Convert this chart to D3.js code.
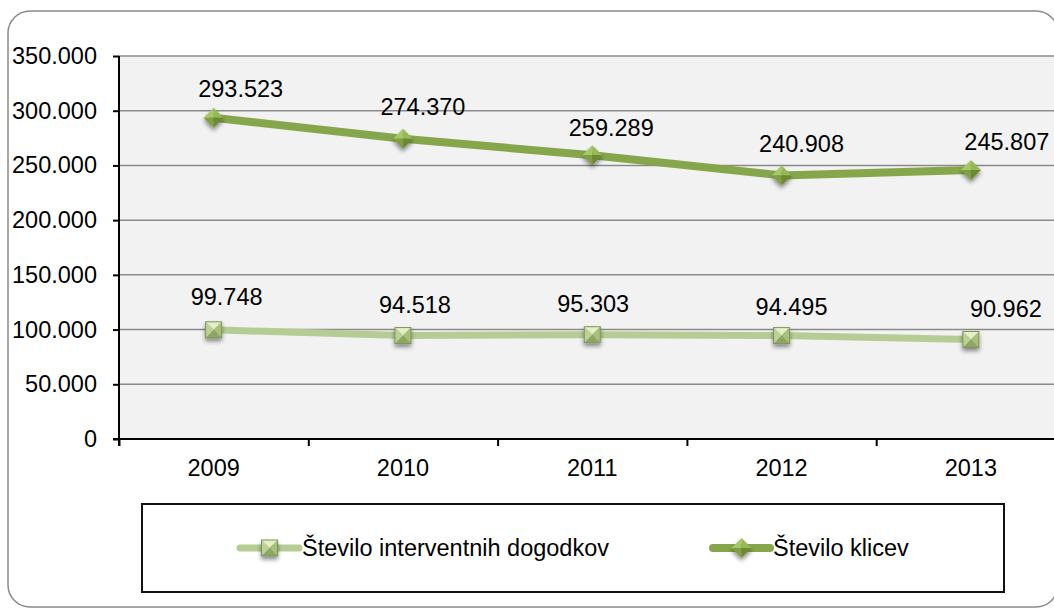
<!DOCTYPE html>
<html>
<head>
<meta charset="utf-8">
<script src="https://cdn.jsdelivr.net/npm/d3@7"></script>
<style>
  html, body { margin: 0; padding: 0; background: #fff; overflow: hidden; }
  text { font-family: "Liberation Sans", Arial, sans-serif; fill: #000; }
</style>
</head>
<body>
<svg id="chart" width="1054" height="610"></svg>
<script>
const years = ["2009", "2010", "2011", "2012", "2013"];
const klici = [293523, 274370, 259289, 240908, 245807];
const dogodki = [99748, 94518, 95303, 94495, 90962];
const yTicks = [0, 50000, 100000, 150000, 200000, 250000, 300000, 350000];
const seriesNames = ["Število interventnih dogodkov", "Število klicev"];

// label nudges (as placed in the original)
const klicLabelDx = [27, 20, 19, 20, 36];
const klicLabelDy = [-21, -24, -19, -23, -20];
const dogLabelDx = [13, 12, 1, 10, 35];
const dogLabelDy = [-25, -23, -23, -21, -22];

const svg = d3.select("#chart");
const fs = 23.5;
const plot = { left: 119, top: 56, bottom: 439, right: 1065.5 };

const sl = d3.formatLocale({ decimal: ",", thousands: ".", grouping: [3], currency: ["", " €"] });
const fmt = sl.format(",");

const defs = svg.append("defs");
const f = defs.append("filter").attr("id", "shadow")
    .attr("x", "-50%").attr("y", "-50%").attr("width", "200%").attr("height", "200%");
f.append("feDropShadow").attr("dx", 0).attr("dy", 3).attr("stdDeviation", 2)
    .attr("flood-color", "#000").attr("flood-opacity", 0.45);

// outer frame
svg.append("rect")
    .attr("x", 8).attr("y", 11).attr("width", 1050).attr("height", 596)
    .attr("rx", 22).attr("fill", "#fff").attr("stroke", "#8a8a8a").attr("stroke-width", 1.5);

const x = d3.scaleBand().domain(years).range([plot.left, plot.right]).paddingInner(0).paddingOuter(0);
const xc = d => x(d) + x.bandwidth() / 2;
const y = d3.scaleLinear().domain([0, 350000]).range([plot.bottom, plot.top]);

svg.append("rect")
    .attr("x", plot.left).attr("y", plot.top)
    .attr("width", plot.right - plot.left).attr("height", plot.bottom - plot.top)
    .attr("fill", "#f2f2f2");

svg.append("g").selectAll("line")
    .data(yTicks.filter(v => v > 0))
    .enter().append("line")
    .attr("x1", plot.left).attr("x2", plot.right)
    .attr("y1", d => y(d)).attr("y2", d => y(d))
    .attr("stroke", "#8a8a8a").attr("stroke-width", 1.5);

// y axis
const yAxis = svg.append("g")
    .attr("transform", "translate(" + plot.left + ",0)")
    .call(d3.axisLeft(y).tickValues(yTicks).tickSize(6).tickPadding(16).tickFormat(d => d === 0 ? "0" : fmt(d)));
yAxis.select(".domain").remove();
yAxis.selectAll("line").attr("stroke", "#000").attr("stroke-width", 2);
yAxis.selectAll("text").style("font-size", fs + "px").attr("fill", "#000");
svg.append("line")
    .attr("x1", plot.left).attr("x2", plot.left)
    .attr("y1", plot.top).attr("y2", plot.bottom + 7)
    .attr("stroke", "#000").attr("stroke-width", 2);

// x axis
const xAxis = svg.append("g")
    .attr("transform", "translate(0," + plot.bottom + ")")
    .call(d3.axisBottom(x).tickSize(0).tickPadding(20));
xAxis.select(".domain").remove();
xAxis.selectAll("text").style("font-size", fs + "px").attr("fill", "#000");

const xEdges = d3.scaleLinear().domain([0, years.length]).range([plot.left, plot.right]);
const xTickAxis = svg.append("g")
    .attr("transform", "translate(0," + plot.bottom + ")")
    .call(d3.axisBottom(xEdges).ticks(years.length).tickSize(7).tickFormat(""));
xTickAxis.select(".domain").remove();
xTickAxis.selectAll("line").attr("stroke", "#000").attr("stroke-width", 2);
svg.append("line")
    .attr("x1", plot.left - 6).attr("x2", plot.right)
    .attr("y1", plot.bottom).attr("y2", plot.bottom)
    .attr("stroke", "#000").attr("stroke-width", 2);

// markers
function diamond(g, cx, cy, r) {
  const facets = [
    { p: [[cx, cy - r], [cx - r, cy], [cx, cy]], c: "#a6c866" },
    { p: [[cx, cy - r], [cx + r, cy], [cx, cy]], c: "#96b955" },
    { p: [[cx - r, cy], [cx, cy + r], [cx, cy]], c: "#7f9f42" },
    { p: [[cx + r, cy], [cx, cy + r], [cx, cy]], c: "#6c8a33" }
  ];
  const m = g.append("g").attr("filter", "url(#shadow)");
  facets.forEach(ft => m.append("path").attr("d", "M" + ft.p.join("L") + "Z").attr("fill", ft.c));
}
function square(g, cx, cy, r) {
  const a = [cx - r, cy - r], b = [cx + r, cy - r], c = [cx + r, cy + r], d = [cx - r, cy + r], o = [cx, cy];
  const facets = [
    { p: [a, b, o], c: "#e4efc6" },
    { p: [b, c, o], c: "#a8c07a" },
    { p: [c, d, o], c: "#8ea564" },
    { p: [d, a, o], c: "#bcd193" }
  ];
  const m = g.append("g").attr("filter", "url(#shadow)");
  facets.forEach(ft => m.append("path").attr("d", "M" + ft.p.join("L") + "Z").attr("fill", ft.c));
  m.append("rect").attr("x", cx - r).attr("y", cy - r).attr("width", 2 * r).attr("height", 2 * r)
      .attr("fill", "none").attr("stroke", "#7d9558").attr("stroke-width", 1);
}

const line = d3.line().x((d, i) => xc(years[i])).y(d => y(d));

const series = [
  { values: dogodki, color: "#b5cd95", width: 7, marker: square, size: 8, dx: dogLabelDx, dy: dogLabelDy },
  { values: klici, color: "#86a64b", width: 8, marker: diamond, size: 10, dx: klicLabelDx, dy: klicLabelDy }
];

series.forEach(s => {
  const g = svg.append("g");
  g.append("path").datum(s.values)
      .attr("d", line).attr("fill", "none")
      .attr("stroke", s.color).attr("stroke-width", s.width)
      .attr("stroke-linejoin", "round").attr("stroke-linecap", "round");
  s.values.forEach((v, i) => s.marker(g, xc(years[i]), y(v), s.size));
  g.selectAll("text.lbl").data(s.values).enter().append("text")
      .attr("class", "lbl")
      .attr("x", (d, i) => xc(years[i]) + s.dx[i])
      .attr("y", (d, i) => y(d) + s.dy[i])
      .attr("text-anchor", "middle")
      .style("font-size", fs + "px")
      .text(d => fmt(d));
});

// legend
svg.append("rect")
    .attr("x", 142).attr("y", 504).attr("width", 862).attr("height", 88)
    .attr("fill", "#fff").attr("stroke", "#111").attr("stroke-width", 2);

const legendItems = [
  { name: seriesNames[0], s: series[0], x0: 240, x1: 299, tx: 302 },
  { name: seriesNames[1], s: series[1], x0: 713, x1: 770, tx: 773 }
];
legendItems.forEach(it => {
  const g = svg.append("g");
  g.append("line").attr("x1", it.x0).attr("x2", it.x1).attr("y1", 548).attr("y2", 548)
      .attr("stroke", it.s.color).attr("stroke-width", it.s.width).attr("stroke-linecap", "round");
  it.s.marker(g, (it.x0 + it.x1) / 2, 548, it.s.size);
  g.append("text").attr("x", it.tx).attr("y", 556).style("font-size", fs + "px").text(it.name);
});
</script>
</body>
</html>
